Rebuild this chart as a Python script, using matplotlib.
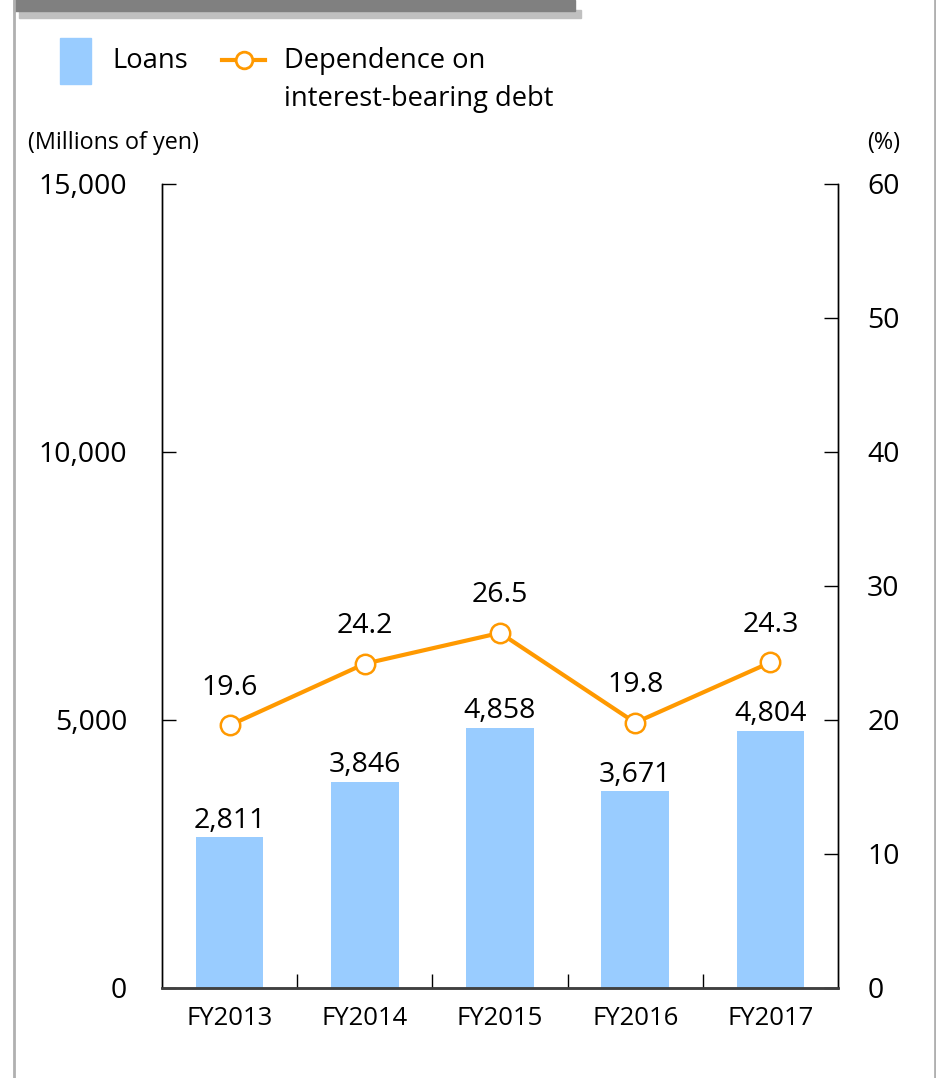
import matplotlib.pyplot as plt
from matplotlib.patches import Rectangle
from matplotlib.lines import Line2D

plt.rcParams['font.family'] = ['Open Sans', 'DejaVu Sans']

# data
years = ['FY2013', 'FY2014', 'FY2015', 'FY2016', 'FY2017']
loans = [2811, 3846, 4858, 3671, 4804]
dependence = [19.6, 24.2, 26.5, 19.8, 24.3]

W, H = 937, 1078
fig = plt.figure(figsize=(W / 100, H / 100), dpi=100)

# axes in pixel box: x 162-838, y 184-988
ax = fig.add_axes([162 / W, 1 - 988 / H, 676 / W, 804 / H])
ax2 = ax.twinx()

x = list(range(len(years)))
ax.bar(x, loans, width=0.5, color='#99ccff', zorder=2)
for xi, v in zip(x, loans):
    ax.annotate(f'{v:,}', (xi, v), xytext=(0, 12), textcoords='offset points',
                ha='center', va='center', fontsize=20.5)

ax2.plot(x, dependence, color='#ff9900', lw=3, marker='o', ms=14,
         mfc='white', mec='#ff9900', mew=1.8, zorder=3)
for xi, v in zip(x, dependence):
    ax2.annotate(f'{v:.1f}', (xi, v), xytext=(0, 27), textcoords='offset points',
                 ha='center', va='center', fontsize=20.5)

ax.set_xlim(-0.5, 4.5)
ax.set_ylim(0, 15000)
ax2.set_ylim(0, 60)
ax.set_yticks([0, 5000, 10000, 15000])
ax.set_yticklabels(['0', '5,000', '10,000', '15,000'])
ax2.set_yticks(range(0, 61, 10))

ax.set_xticks(x)
ax.set_xticklabels(years, fontsize=18.5)
ax.set_xticks([0.5, 1.5, 2.5, 3.5], minor=True)
ax.tick_params(axis='x', which='major', length=0, pad=13)
ax.tick_params(axis='x', which='minor', direction='in', length=10, width=1)
ax.tick_params(axis='y', direction='in', length=10, width=1, labelsize=20.5, pad=25)
ax2.tick_params(axis='y', direction='in', length=10, width=1, labelsize=20.5, pad=21)

for a in (ax, ax2):
    a.spines['top'].set_visible(False)
    a.spines['left'].set_linewidth(1)
    a.spines['right'].set_linewidth(1)
    a.spines['bottom'].set_color('#404040')
    a.spines['bottom'].set_linewidth(1.8)

# axis unit labels
fig.text(28 / W, 1 - 143 / H, '(Millions of yen)', fontsize=16.8, va='center', ha='left')
fig.text(900 / W, 1 - 143 / H, '(%)', fontsize=16.8, va='center', ha='right')

# legend drawn by hand
fig.patches.append(Rectangle((60 / W, 1 - 84 / H), 31 / W, 46 / H,
                             transform=fig.transFigure, color='#99ccff'))
fig.text(112 / W, 1 - 61 / H, 'Loans', fontsize=19.7, va='center', ha='left')
fig.lines.append(Line2D([222 / W, 265 / W], [1 - 60 / H, 1 - 60 / H],
                        transform=fig.transFigure, color='#ff9900', lw=3, zorder=3))
fig.lines.append(Line2D([243.5 / W], [1 - 60 / H], transform=fig.transFigure,
                        color='#ff9900', marker='o', ms=12, mfc='white',
                        mec='#ff9900', mew=2, lw=0, zorder=4))
fig.text(284 / W, 1 - 61 / H, 'Dependence on', fontsize=19.7, va='center', ha='left')
fig.text(284 / W, 1 - 99 / H, 'interest-bearing debt', fontsize=19.7, va='center', ha='left')

# frame decoration
fig.patches.append(Rectangle((19 / W, 1 - 18 / H), 562 / W, 8 / H,
                             transform=fig.transFigure, color='#c0c0c0'))
fig.patches.append(Rectangle((14 / W, 1 - 11 / H), 561 / W, 11 / H,
                             transform=fig.transFigure, color='#808080'))
fig.lines.append(Line2D([14.5 / W, 14.5 / W], [0, 1], transform=fig.transFigure,
                        color='#b0b0b0', lw=2))
fig.lines.append(Line2D([935.5 / W, 935.5 / W], [0, 1], transform=fig.transFigure,
                        color='#b0b0b0', lw=2))

fig.savefig('out.png', dpi=100)
